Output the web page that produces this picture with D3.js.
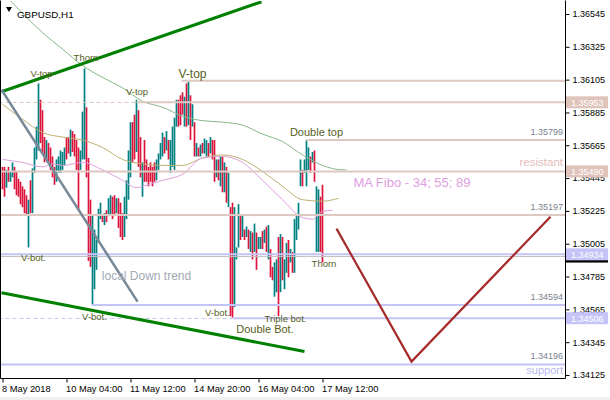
<!DOCTYPE html>
<html><head><meta charset="utf-8">
<script src="https://cdn.jsdelivr.net/npm/d3@7"></script>
<style>
body{margin:0;background:#fff}
svg{display:block}
text{font-family:"Liberation Sans",Arial,sans-serif}
</style>
</head><body>
<svg id="c" width="610" height="400"></svg>
<script>
// ---------- DATA ----------
const symbol = "GBPUSD,H1";
const yTicks = [1.36545,1.36325,1.36105,1.35885,1.35665,1.35445,1.35225,1.35005,1.34785,1.34565,1.34345,1.34125];
const timeIdx = [0,32,64,96,128,160];
const timeLabels = ["8 May 2018","10 May 04:00","11 May 12:00","14 May 20:00","16 May 04:00","17 May 12:00"];

const highs = [
1.3552,1.3552,1.3550,1.3552,1.3549,1.3555,1.3552,1.3549,1.3544,1.3542,
1.3539,1.3537,1.3533,1.3530,1.3543,1.3551,1.3565,1.3579,1.3608,1.3597,
1.3590,1.3572,1.3570,1.3568,1.3565,1.3559,1.3552,1.3557,1.3559,1.3563,
1.3562,1.3565,1.3572,1.3572,1.3577,1.3576,1.3574,1.3570,1.3565,1.3563,
1.3589,1.3618,1.3592,1.3558,1.3530,1.3520,1.3510,1.3503,1.3524,1.3528,
1.3520,1.3521,1.3523,1.3531,1.3533,1.3532,1.3533,1.3531,1.3531,1.3528,
1.3521,1.3532,1.3543,1.3563,1.3582,1.3582,1.3587,1.3597,1.3590,1.3572,
1.3555,1.3570,1.3557,1.3552,1.3555,1.3552,1.3555,1.3557,1.3561,1.3568,
1.3575,1.3572,1.3576,1.3570,1.3570,1.3579,1.3585,1.3597,1.3597,1.3600,
1.3602,1.3599,1.3608,1.3609,1.3600,1.3594,1.3582,1.3568,1.3565,1.3567,
1.3568,1.3571,1.3570,1.3568,1.3572,1.3570,1.3570,1.3557,1.3557,1.3559,
1.3559,1.3555,1.3552,1.3548,1.3525,1.3528,1.3525,1.3498,1.3527,1.3519,
1.3520,1.3510,1.3512,1.3510,1.3509,1.3508,1.3514,1.3508,1.3505,1.3505,
1.3509,1.3510,1.3512,1.3513,1.3497,1.3485,1.3488,1.3490,1.3505,1.3507,
1.3505,1.3490,1.3501,1.3503,1.3497,1.3495,1.3517,1.3519,1.3528,1.3557,
1.3550,1.3557,1.3570,1.3565,1.3559,1.3562,1.3563,1.3539,1.3537,1.3532,
1.3540];
const lows = [
1.3537,1.3532,1.3538,1.3542,1.3542,1.3545,1.3537,1.3533,1.3532,1.3527,
1.3525,1.3521,1.3520,1.3498,1.3521,1.3521,1.3548,1.3557,1.3563,1.3568,
1.3561,1.3555,1.3557,1.3555,1.3550,1.3545,1.3540,1.3542,1.3548,1.3548,
1.3550,1.3553,1.3557,1.3561,1.3559,1.3562,1.3559,1.3550,1.3523,1.3550,
1.3557,1.3557,1.3545,1.3489,1.3485,1.3460,1.3470,1.3483,1.3501,1.3517,
1.3515,1.3513,1.3515,1.3519,1.3520,1.3517,1.3519,1.3521,1.3511,1.3505,
1.3503,1.3505,1.3517,1.3530,1.3545,1.3555,1.3557,1.3562,1.3552,1.3545,
1.3532,1.3542,1.3542,1.3539,1.3542,1.3539,1.3542,1.3543,1.3550,1.3557,
1.3559,1.3561,1.3563,1.3557,1.3548,1.3552,1.3550,1.3579,1.3579,1.3580,
1.3587,1.3579,1.3579,1.3580,1.3570,1.3579,1.3559,1.3559,1.3559,1.3559,
1.3561,1.3561,1.3559,1.3559,1.3561,1.3557,1.3542,1.3545,1.3543,1.3539,
1.3535,1.3535,1.3528,1.3525,1.3452,1.3451,1.3458,1.3490,1.3498,1.3503,
1.3505,1.3503,1.3505,1.3497,1.3495,1.3490,1.3495,1.3483,1.3497,1.3497,
1.3497,1.3501,1.3495,1.3490,1.3478,1.3476,1.3465,1.3468,1.3452,1.3468,
1.3476,1.3470,1.3481,1.3478,1.3488,1.3481,1.3481,1.3503,1.3510,1.3539,
1.3539,1.3548,1.3539,1.3550,1.3548,1.3555,1.3542,1.3495,1.3495,1.3495,
1.3488];
// T = bullish bar, R = bearish bar
const dirs = ("RRTRTTRRRR"+"RRRTRTTTTR"+"RRTRRRRTTT"+"TTRRTRRRRT"+"TTRRRTTTTT"+
              "RTRTTRRTRR"+"RTTTTRRTRR"+"TRRRRRRTTT"+"TRTRTTTTRR"+"RTRTRTRTRT"+
              "RTTRTRRTRT"+"RTRTRRTTTR"+"TRTRTRTRTT"+"RTRTRRTTRT"+"RTTRTRTTTT"+
              "RTTTRTRTTRR").split("");

// moving averages (Fibo 34 / 55 / 89), read at sample bars
const ma89Idx = [0,10,20,30,40,50,60,70,80,90,100,110,120,130,140,150,160,170,172];
const ma89    = [1.3669,1.3655,1.3642,1.3631,1.3620,1.3612,1.3605,1.3596,1.3592,1.3586,1.3583,1.3582,1.3580,1.3574,1.3569,1.3560,1.3553,1.3550,1.3550];
const ma55Idx = [0,10,20,30,40,50,60,70,80,90,100,110,120,130,140,150,160,168];
const ma55    = [1.3594,1.3584,1.3575,1.3572,1.3570,1.3565,1.3557,1.3554,1.3553,1.3553,1.3558,1.3560,1.3557,1.3549,1.3539,1.3530,1.3529,1.3531];
const ma34Idx = [0,10,20,25,30,40,50,60,67,70,80,90,100,110,120,130,140,150,155,160,165];
const ma34    = [1.3557,1.3555,1.3552,1.3554,1.3553,1.3555,1.3550,1.3543,1.3538,1.3539,1.3543,1.3547,1.3558,1.3559,1.3555,1.3543,1.3530,1.3518,1.3517,1.3522,1.3523];

// horizontal levels
const levelPrice = [1.36097,1.35953,1.35700,1.35490,1.35197,1.34934,1.34594,1.34506,1.34196];
const levelFrom  = [89.5,67,151.5,-2,-2,-2,44.5,115,-2];   // bar where the level starts
const levelKind  = ["res","res","res","res","res","sup","sup","sup","sup"];
const levelText  = ["","","1.35799","resistant","1.35197","","1.34594","","1.34196"];
const dashedPrice = [1.35953,1.34506];
const dashedTo    = [67,115];
const dashedKind  = ["res","sup"];
const axisBoxPrice = [1.35953,1.35490,1.34934,1.34506];
const axisBoxKind  = ["res","res","sup","sup"];
const bidPrice = 1.34919;

// trend lines [bar, price]
const channelTop    = [[-0.5,1.36024],[129.5,1.36627]];
const channelBottom = [[-0.5,1.34677],[151,1.34282]];
const localDown     = [[-0.5,1.36037],[67.5,1.34617]];
const forecast      = [[167,1.35106],[204.5,1.34215],[274,1.35186]];

// annotations
const annText  = ["V-top","Thorn","V-top","V-top","Double top","V-bot.","Thorn","V-bot.","V-bot.","Triple bot.","Double Bot.","local Down trend","MA Fibo - 34; 55; 89"];
const annIdx   = [19.5,41.75,67.25,95,157,15.5,160.75,46,107.5,141.5,131.25,72,204.75];
const annPrice = [1.36123,1.36230,1.36002,1.36116,1.35727,1.34889,1.34849,1.34494,1.34521,1.34480,1.34407,1.34762,1.35385];
const annKind  = ["s","s","s","b","m","s","s","s","s","s","m","t","ma"];

// ---------- DRAW ----------
const svg = d3.select("#c");
const R = 565, B = 378;
const x = d3.scaleLinear().domain([0,160]).range([2.5,322.5]);
const y = d3.scaleLinear().domain([1.34125,1.36545]).range([375,14]);
const col = {res:"#dec8c2", sup:"#c4c4f6"};
const boxCol = {res:"#e0c4bc", sup:"#c4c4f8"};

svg.append("rect").attr("width",610).attr("height",400).attr("fill","#fff");
svg.append("rect").attr("x",0).attr("y",397).attr("width",610).attr("height",3).attr("fill","#f0f0f0");
svg.append("defs").append("clipPath").attr("id","clip")
  .append("rect").attr("x",1).attr("y",1).attr("width",R-1).attr("height",B-1);
const g = svg.append("g").attr("clip-path","url(#clip)");

// bars
g.selectAll("line.bar").data(highs).join("line").attr("class","bar")
  .attr("x1",(d,i)=>x(i)).attr("x2",(d,i)=>x(i))
  .attr("y1",d=>y(d)).attr("y2",(d,i)=>y(lows[i]))
  .attr("stroke",(d,i)=>dirs[i]==="T"?"#008080":"#dc143c")
  .attr("stroke-width",1.7);

// MAs
const maLine = (idx,vals,color)=>{
  g.append("path").datum(idx.map((d,i)=>[d,vals[i]]))
   .attr("d",d3.line().x(d=>x(d[0])).y(d=>y(d[1])).curve(d3.curveMonotoneX))
   .attr("fill","none").attr("stroke",color).attr("stroke-width",1);
};
maLine(ma89Idx,ma89,"#86b886");
maLine(ma55Idx,ma55,"#bdb070");
maLine(ma34Idx,ma34,"#dda0dd");

// dashed levels
dashedPrice.forEach((p,i)=>{
  g.append("line").attr("x1",x(-2)).attr("x2",x(dashedTo[i]))
   .attr("y1",Math.round(y(p))+0.5).attr("y2",Math.round(y(p))+0.5)
   .attr("stroke",col[dashedKind[i]]).attr("stroke-dasharray","4,3").attr("stroke-width",1);
});
// bid line
g.append("line").attr("x1",0).attr("x2",R).attr("y1",y(bidPrice)).attr("y2",y(bidPrice))
  .attr("stroke","#c0c0c0").attr("stroke-width",1);
// solid levels
levelPrice.forEach((p,i)=>{
  g.append("line").attr("x1",x(levelFrom[i])).attr("x2",R)
   .attr("y1",y(p)).attr("y2",y(p))
   .attr("stroke",col[levelKind[i]]).attr("stroke-width",2);
});

// trend lines
const tl = d3.line().x(d=>x(d[0])).y(d=>y(d[1]));
g.append("path").attr("d",tl(channelTop)).attr("stroke","#008000").attr("stroke-width",3).attr("fill","none");
g.append("path").attr("d",tl(channelBottom)).attr("stroke","#008000").attr("stroke-width",3).attr("fill","none");
g.append("path").attr("d",tl(localDown)).attr("stroke","#778899").attr("stroke-width",2.5).attr("fill","none");
g.append("path").attr("d",tl(forecast)).attr("stroke","#a52a2a").attr("stroke-width",2.2).attr("fill","none");

// level labels
levelPrice.forEach((p,i)=>{
  if(!levelText[i]) return;
  const isRes = levelText[i]==="resistant";
  g.append("text").attr("x",563).attr("y",y(p)-5).attr("text-anchor","end")
   .attr("font-size",isRes?11.5:9).attr("fill",isRes?"#e4bcbc":"#7a8290").text(levelText[i]);
});
g.append("text").attr("x",563).attr("y",y(levelPrice[8])+10).attr("text-anchor","end")
  .attr("font-size",11).attr("fill","#b8b8f0").text("support");

// annotations
const annStyle = {s:[9.5,"#56601c"], b:[12,"#56601c"], m:[11,"#56601c"], t:[12,"#a2a9b4"], ma:[13,"#e0a0e0"]};
annText.forEach((t,i)=>{
  const st = annStyle[annKind[i]];
  g.append("text").attr("x",x(annIdx[i])).attr("y",y(annPrice[i])).attr("text-anchor","middle")
   .attr("font-size",st[0]).attr("fill",st[1]).text(t);
});

// frame
svg.append("path").attr("d",`M0.5,0.5V${B+0.5}H${R+0.5}V0.5`).attr("fill","none").attr("stroke","#000").attr("stroke-width",1);

// y axis
const ya = svg.append("g").attr("transform",`translate(${R+0.5},0)`)
  .call(d3.axisRight(y).tickValues(yTicks).tickSize(4).tickPadding(3).tickFormat(d3.format(".5f")));
ya.select(".domain").remove();
ya.selectAll("text").attr("font-size",9).attr("font-family","Liberation Sans, Arial").attr("fill","#000");

// axis price boxes (cover the tick labels beneath them, as in the terminal)
svg.append("rect").attr("x",566).attr("y",y(bidPrice)-6).attr("width",42).attr("height",12).attr("fill","#000");
axisBoxPrice.forEach((p,i)=>{
  svg.append("rect").attr("x",566).attr("y",y(p)-6).attr("width",42).attr("height",12).attr("fill",boxCol[axisBoxKind[i]]);
  svg.append("text").attr("x",571).attr("y",y(p)+3.5).attr("font-size",9).attr("fill","#fff").text(d3.format(".5f")(p));
});

// x axis
const xa = svg.append("g").attr("transform",`translate(0,${B+0.5})`)
  .call(d3.axisBottom(x).tickValues(timeIdx).tickSize(4).tickPadding(3).tickFormat((d,i)=>timeLabels[i]));
xa.select(".domain").remove();
xa.selectAll("text").attr("text-anchor","start").attr("x",-1).attr("font-size",9.3).attr("font-family","Liberation Sans, Arial").attr("fill","#000");

// title
svg.append("path").attr("d","M6,7H12L9,12Z").attr("fill","#000");
svg.append("text").attr("x",17).attr("y",18).attr("font-size",9.8).attr("fill","#000").text(symbol);
</script>
</body></html>
